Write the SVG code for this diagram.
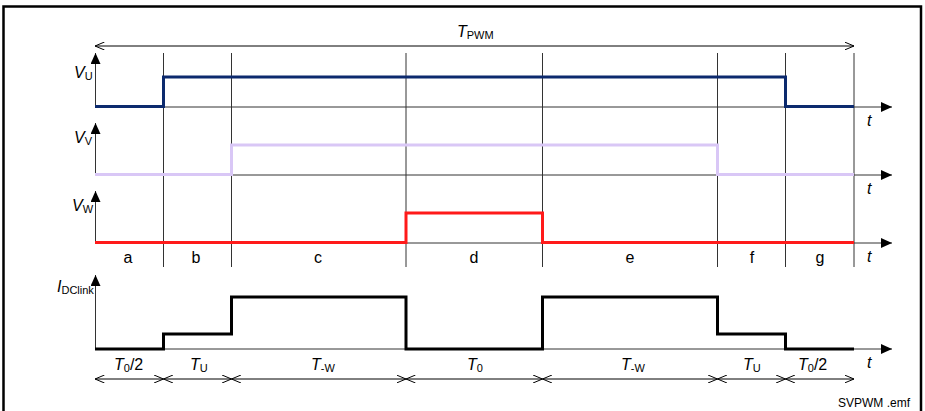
<svg xmlns="http://www.w3.org/2000/svg" width="925" height="411" viewBox="0 0 925 411">
<defs>
<marker id="fa" viewBox="0 0 11 10" refX="11" refY="5" markerWidth="11" markerHeight="10" markerUnits="userSpaceOnUse" orient="auto">
<path d="M0,0 L11,5 L0,10 Z" fill="#000"/>
</marker>
<marker id="ch" viewBox="0 0 10 8" refX="9.5" refY="4" markerWidth="10" markerHeight="8" markerUnits="userSpaceOnUse" orient="auto-start-reverse">
<path d="M0,0 L9.5,4 L0,8" fill="none" stroke="#000" stroke-width="1"/>
</marker>
</defs>
<style>
.frame{fill:none;stroke:#000;stroke-width:2.5}
.grid{stroke:#333;stroke-width:1;fill:none}
.axis{stroke:#333;stroke-width:1;fill:none;marker-end:url(#fa)}
.dim{stroke:#000;stroke-width:1;fill:none;marker-start:url(#ch);marker-end:url(#ch)}
.sig{fill:none;stroke-width:3;stroke-linejoin:miter}
text{font-family:"Liberation Sans",Arial,sans-serif;fill:#000}
.lbl{font-size:16px}
.it{font-style:italic}
.sub{font-size:11px;font-style:normal}
.seg{font-size:16px;text-anchor:middle}
</style>
<rect class="frame" x="3.5" y="6.5" width="917.5" height="410"/>

<g id="grid">
<path class="grid" d="M163.5,53V267 M231.5,53V267 M406,53V267 M542.5,53V267 M717.5,53V267 M785.5,53V267 M854,53V267"/>
</g>

<g id="tpwm">
<path class="dim" d="M95,46H854"/>
<text x="457" y="37" class="lbl it">T<tspan class="sub" dy="2">PWM</tspan></text>
</g>

<g id="axes">
<path class="axis" d="M95.5,107V53"/>
<path class="axis" d="M95.5,107H892"/>
<path class="axis" d="M95.5,175V123"/>
<path class="axis" d="M95.5,175H892"/>
<path class="axis" d="M95.5,243V191"/>
<path class="axis" d="M95.5,243H892"/>
<path class="axis" d="M95.5,349V275"/>
<path class="axis" d="M95.5,349H892"/>
</g>

<g id="vu">
<path class="sig" stroke="#0c2a6e" d="M95,106.5H163.5V77H785.5V106.5H854"/>
<text x="74" y="78" class="lbl it">V<tspan class="sub" dy="2">U</tspan></text>
<text x="867" y="126" class="lbl it">t</text>
</g>

<g id="vv">
<path class="sig" stroke="#d9c7f6" d="M95,174.5H231.5V145H717.5V174.5H854"/>
<text x="74" y="143" class="lbl it">V<tspan class="sub" dy="2">V</tspan></text>
<text x="867" y="194" class="lbl it">t</text>
</g>

<g id="vw">
<path class="sig" stroke="#ff1a1a" d="M95,242.5H406V213H542.5V242.5H854"/>
<text x="72" y="211" class="lbl it">V<tspan class="sub" dy="2">W</tspan></text>
<text x="867" y="262" class="lbl it">t</text>
</g>

<g id="segments">
<text x="128" y="263" class="seg">a</text>
<text x="196" y="263" class="seg">b</text>
<text x="318" y="263" class="seg">c</text>
<text x="474" y="263" class="seg">d</text>
<text x="630" y="263" class="seg">e</text>
<text x="752" y="263" class="seg">f</text>
<text x="820" y="263" class="seg">g</text>
</g>

<g id="idclink">
<path class="sig" stroke="#000" stroke-width="3.5" d="M95,349H163.5V334H231.5V297H406V349H542.5V297H717.5V334H785.5V349H854"/>
<text x="57" y="292" class="lbl it">I<tspan class="sub" dy="2">DClink</tspan></text>
<text x="867" y="368" class="lbl it">t</text>
</g>

<g id="durations">
<path class="dim" d="M95,379H163.5"/>
<path class="dim" d="M163.5,379H231.5"/>
<path class="dim" d="M231.5,379H406"/>
<path class="dim" d="M406,379H542.5"/>
<path class="dim" d="M542.5,379H717.5"/>
<path class="dim" d="M717.5,379H785.5"/>
<path class="dim" d="M785.5,379H854"/>
<text x="114" y="370" class="lbl"><tspan class="it">T</tspan><tspan class="sub" dy="2">0</tspan><tspan dy="-2">/2</tspan></text>
<text x="190" y="370" class="lbl it">T<tspan class="sub" dy="2">U</tspan></text>
<text x="311" y="370" class="lbl it">T<tspan class="sub" dy="2">-W</tspan></text>
<text x="467" y="370" class="lbl it">T<tspan class="sub" dy="2">0</tspan></text>
<text x="621" y="370" class="lbl it">T<tspan class="sub" dy="2">-W</tspan></text>
<text x="743" y="370" class="lbl it">T<tspan class="sub" dy="2">U</tspan></text>
<text x="798" y="370" class="lbl"><tspan class="it">T</tspan><tspan class="sub" dy="2">0</tspan><tspan dy="-2">/2</tspan></text>
</g>

<text x="910" y="407" font-size="12" text-anchor="end">SVPWM .emf</text>
</svg>
